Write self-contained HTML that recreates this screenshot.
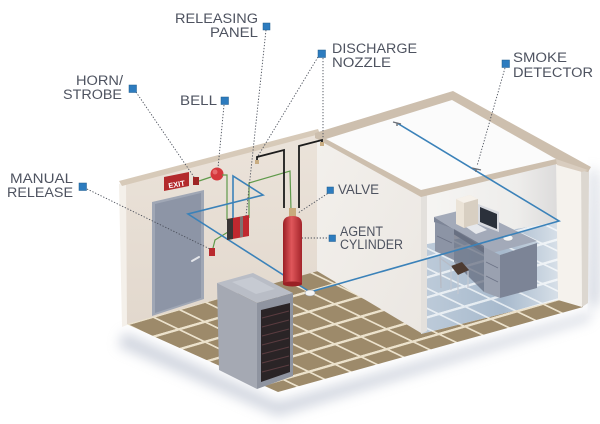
<!DOCTYPE html>
<html><head><meta charset="utf-8">
<style>
html,body{margin:0;padding:0;background:#fff;}
svg{display:block;}
text{font-family:"Liberation Sans",sans-serif;font-size:13.5px;fill:#4e5360;}
</style></head><body>
<svg width="600" height="424" viewBox="0 0 600 424" xmlns="http://www.w3.org/2000/svg">
<defs>
 <pattern id="tile" patternUnits="userSpaceOnUse" width="26" height="26" patternTransform="matrix(1 -0.29 1 0.48 124 324)">
   <rect width="26" height="26" fill="#9d8a6a"/>
   <rect width="26" height="3.2" fill="#ece2cc"/>
   <rect width="2.4" height="26" fill="#ece2cc"/>
 </pattern>
 <pattern id="tileb" patternUnits="userSpaceOnUse" width="26" height="26" patternTransform="matrix(1 -0.29 1 0.48 124 324)">
   <rect width="26" height="26" fill="#9bb0c6"/>
   <rect width="26" height="3.2" fill="#dfe7ee"/>
   <rect width="2.4" height="26" fill="#dfe7ee"/>
 </pattern>
 <filter id="blur" x="-30%" y="-30%" width="160%" height="160%"><feGaussianBlur stdDeviation="6"/></filter>
 <linearGradient id="cyl" x1="0" x2="1" y1="0" y2="0">
   <stop offset="0" stop-color="#9a1f24"/><stop offset="0.45" stop-color="#e0575b"/><stop offset="1" stop-color="#a3242a"/>
 </linearGradient>
 <linearGradient id="bw" x1="0" y1="0" x2="0" y2="1">
   <stop offset="0" stop-color="#ebe3da"/><stop offset="1" stop-color="#e2d8cd"/>
 </linearGradient>
 <linearGradient id="pw" x1="0" y1="0" x2="1" y2="1">
   <stop offset="0" stop-color="#f3f0ec"/><stop offset="1" stop-color="#ebe7e2"/>
 </linearGradient>
 <linearGradient id="ri" x1="0" y1="0" x2="1" y2="0">
   <stop offset="0" stop-color="#f6f5f3"/><stop offset="0.7" stop-color="#eeedeb"/><stop offset="1" stop-color="#dcdbdb"/>
 </linearGradient>
 <linearGradient id="bfade" x1="0" y1="0" x2="1" y2="0">
   <stop offset="0" stop-color="#fff" stop-opacity="0.35"/><stop offset="0.6" stop-color="#fff" stop-opacity="0.12"/><stop offset="1" stop-color="#fff" stop-opacity="0.6"/>
 </linearGradient>
 <clipPath id="rfloor"><polygon points="421,245 557,222 558,300 421,334"/></clipPath>
</defs>

<!-- shadows -->
<polygon points="124,332 278,402 586,314 596,300 598,170 590,320 278,416 118,346" fill="#a3acc0" opacity="0.5" filter="url(#blur)"/>
<polygon points="590,168 598,172 598,305 590,308" fill="#b9c0cf" opacity="0.6" filter="url(#blur)"/>

<!-- floor -->
<polygon points="124,323 330,266 560,228 583,307 278,392" fill="url(#tile)"/>

<!-- back wall -->
<polygon points="122,183 318,132 318,271 124,325" fill="url(#bw)"/>
<polygon points="119,184 126,182 127,325 122,327" fill="#f4f0ea"/>
<polygon points="119,181 318,129 320,134 122,186" fill="#d7cab9"/>

<!-- partition wall face -->
<polygon points="317,134 421,192 421,333 317,271" fill="url(#pw)"/>

<!-- right room interior -->
<polygon points="421,192 558,160 558,300 421,334" fill="url(#ri)"/>
<g clip-path="url(#rfloor)">
 <polygon points="421,245 557,222 558,300 421,334" fill="url(#tileb)"/>
 <polygon points="421,245 557,222 558,300 421,334" fill="url(#bfade)"/>
</g>
<polygon points="421,192 427,191 427,331 421,334" fill="#e3e0dc"/>

<!-- right wall -->
<polygon points="556,159 581,166 582,307 558,300" fill="#f5f2ed"/>
<polygon points="581,166 589,169 588,303 582,307" fill="#dcd7d0"/>

<!-- ceiling -->
<polygon points="315,133 453,91 591,167 588,172 557,164 421,197 315,138" fill="#cdbfae"/>
<polygon points="326,139 452,100 556,159 421,190" fill="#fbfbfb"/>
<polygon points="556,159 588,170 582,172 557,165" fill="#d9cdbf"/>

<!-- desk -->
<polygon points="434,217 470,208 537,241 492,253" fill="#a3aab9"/>
<polygon points="434,217 492,253 492,258 434,222" fill="#7d8597"/>
<polygon points="435,222 454,229 454,260 435,251" fill="#8c94a5"/>
<polygon points="454,229 484,246 484,292 454,262" fill="#5f6779" opacity="0.7"/>
<polygon points="484,247 500,255 500,298 484,292" fill="#9aa1b0"/>
<polygon points="500,255 537,243 537,288 500,298" fill="#7c8496"/>
<line x1="486" y1="262" x2="498" y2="268" stroke="#6c7386" stroke-width="0.8"/>
<line x1="486" y1="276" x2="498" y2="282" stroke="#6c7386" stroke-width="0.8"/>
<line x1="437" y1="236" x2="452" y2="243" stroke="#6c7386" stroke-width="0.8"/>
<!-- tower -->
<polygon points="456,199 470,195 478,199 478,224 464,228 456,224" fill="#ebe3d7"/>
<polygon points="456,199 470,195 478,199 464,203" fill="#f6f1ea"/>
<polygon points="464,203 478,199 478,224 464,228" fill="#d8cfc2"/>
<!-- monitor -->
<polygon points="478,204 499,212 499,232 478,224" fill="#d9dbe0"/>
<polygon points="480,207 497,214 497,229 480,222" fill="#2b313b"/>
<polygon points="466,227 477,224 487,230 476,234" fill="#e6e8ec"/>
<ellipse cx="508" cy="238" rx="5" ry="3" fill="#f4f4f4" stroke="#9aa0aa" stroke-width="0.5"/>
<!-- chair -->
<polygon points="451,266 462,262 469,270 458,275" fill="#4d3b31"/>
<line x1="440" y1="255" x2="441" y2="288" stroke="#b7bcc6" stroke-width="1.5"/>
<line x1="451" y1="266" x2="451" y2="290" stroke="#c4c9d2" stroke-width="1.2"/>
<line x1="458" y1="275" x2="458" y2="294" stroke="#c4c9d2" stroke-width="1.2"/>
<line x1="468" y1="271" x2="468" y2="288" stroke="#c4c9d2" stroke-width="1.2"/>
<line x1="440" y1="258" x2="451" y2="266" stroke="#b7bcc6" stroke-width="1.2"/>

<!-- door -->
<polygon points="152,202 204,190 204,299 152,316" fill="#a0a7b5"/>
<polygon points="155,204 201,193 201,298 155,313" fill="#8d95a6"/>
<line x1="192" y1="261" x2="199" y2="257" stroke="#e4e6ea" stroke-width="2" stroke-linecap="round"/>

<!-- exit sign -->
<polygon points="164,177 189,172 189,186 164,191" fill="#b32a2c"/>
<text x="168" y="187" style="font-size:7.5px;font-weight:bold;fill:#fff" transform="rotate(-10 176 183)">EXIT</text>
<!-- horn -->
<rect x="193" y="177" width="6" height="8" fill="#9e2424"/>
<!-- bell -->
<circle cx="217" cy="174" r="6.5" fill="#d4383c"/>
<circle cx="215" cy="172" r="2.5" fill="#e66a6c"/>

<!-- green wires -->
<g fill="none" stroke="#5f9a4a" stroke-width="1.2">
 <polyline points="199,181 211,177"/>
 <polyline points="222,175 227,175 227,220"/>
 <polyline points="249,218 249,183 290,171 291,210"/>
 <polyline points="228,232 215,240 213,248"/>
</g>

<!-- blue wires -->
<polyline points="233,218 233,176 263,195 188,214 310,292 559,221 397,123" fill="none" stroke="#3b82b9" stroke-width="1.6"/>

<!-- black pipes -->
<g fill="none" stroke="#1c1c1c" stroke-width="1.8">
 <polyline points="257,162 257,157 284,150 284,208"/>
 <polyline points="299,208 299,146 322,140 322,145"/>
</g>
<rect x="255" y="160" width="4" height="4" fill="#c9ad82"/>
<rect x="320" y="142" width="4" height="4" fill="#c9ad82"/>

<!-- releasing panel -->
<polygon points="227,219 249,215 249,236 227,240" fill="#c0282f"/>
<polygon points="227,219 233,218 233,239 227,240" fill="#3a3636"/>
<polygon points="240,217 243,216 243,237 240,237" fill="#7d7373"/>
<!-- manual release -->
<rect x="209" y="248" width="6" height="8" fill="#b92a2e"/>

<!-- cylinder -->
<rect x="289" y="208" width="7" height="10" fill="#c8aa7c"/>
<path d="M283,284 L283,224 Q283,216 292.5,216 Q302,216 302,224 L302,284 Z" fill="url(#cyl)"/>
<ellipse cx="292.5" cy="284" rx="9.5" ry="2.5" fill="#9a2024"/>

<!-- floor detector -->
<ellipse cx="310" cy="293" rx="5" ry="3" fill="#f4f4f4" stroke="#9aa0aa" stroke-width="0.5"/>
<!-- ceiling detectors -->
<path d="M393,122 L401,124 M397,123 L397,126" stroke="#6b6f77" stroke-width="1.4"/>
<path d="M472,168 L481,170 M476,169 L476,172" stroke="#6b6f77" stroke-width="1.4"/>

<!-- server cabinet -->
<polygon points="217,283 253,273 293,293 257,303" fill="#b9bdc6"/>
<polygon points="232,282 252,277 275,289 256,294" fill="#c6cad2"/>
<polygon points="217,283 257,303 257,389 219,370" fill="#a5a9b3"/>
<polygon points="257,303 293,293 293,376 257,389" fill="#8f94a0"/>
<polygon points="261,310 290,303 290,372 261,382" fill="#2a2426"/>
<g stroke="#5a3c40" stroke-width="1">
 <line x1="262" y1="318" x2="289" y2="311"/>
 <line x1="262" y1="327" x2="289" y2="320"/>
 <line x1="262" y1="336" x2="289" y2="329"/>
 <line x1="262" y1="345" x2="289" y2="338"/>
 <line x1="262" y1="354" x2="289" y2="347"/>
 <line x1="262" y1="363" x2="289" y2="356"/>
 <line x1="262" y1="372" x2="289" y2="365"/>
</g>

<!-- leader lines -->
<g fill="none" stroke="#4a4f5a" stroke-width="0.9" stroke-dasharray="1.3 1.7">
 <line x1="266" y1="30" x2="246" y2="216"/>
 <line x1="136" y1="92" x2="194" y2="177"/>
 <line x1="224" y1="105" x2="218" y2="168"/>
 <line x1="87" y1="189" x2="210" y2="249"/>
 <line x1="318" y1="57" x2="258" y2="156"/>
 <line x1="323" y1="58" x2="323" y2="139"/>
 <line x1="505" y1="68" x2="477" y2="166"/>
 <line x1="330" y1="192" x2="298" y2="213"/>
 <line x1="330" y1="238" x2="302" y2="238"/>
</g>

<!-- label squares -->
<g fill="#2d7cbf" stroke="#1f5a8c" stroke-width="0.5">
 <rect x="263" y="23" width="7" height="7"/>
 <rect x="129" y="85" width="7.5" height="7.5"/>
 <rect x="221" y="97" width="7.5" height="7.5"/>
 <rect x="79" y="183" width="7.5" height="7.5"/>
 <rect x="318" y="50" width="7.5" height="7.5"/>
 <rect x="502" y="60" width="7.5" height="7.5"/>
 <rect x="327" y="187" width="6.5" height="6.5"/>
 <rect x="329" y="235" width="6.5" height="6.5"/>
</g>

<!-- labels -->
<text x="258" y="23" text-anchor="end" textLength="83" lengthAdjust="spacingAndGlyphs">RELEASING</text>
<text x="258" y="37" text-anchor="end" textLength="48" lengthAdjust="spacingAndGlyphs">PANEL</text>
<text x="123" y="85" text-anchor="end" textLength="47" lengthAdjust="spacingAndGlyphs">HORN/</text>
<text x="122" y="99" text-anchor="end" textLength="59" lengthAdjust="spacingAndGlyphs">STROBE</text>
<text x="180" y="105" textLength="37" lengthAdjust="spacingAndGlyphs">BELL</text>
<text x="73" y="183" text-anchor="end" textLength="63" lengthAdjust="spacingAndGlyphs">MANUAL</text>
<text x="73" y="197" text-anchor="end" textLength="66" lengthAdjust="spacingAndGlyphs">RELEASE</text>
<text x="332" y="53" textLength="85" lengthAdjust="spacingAndGlyphs">DISCHARGE</text>
<text x="332" y="67" textLength="59" lengthAdjust="spacingAndGlyphs">NOZZLE</text>
<text x="513" y="62" textLength="54" lengthAdjust="spacingAndGlyphs">SMOKE</text>
<text x="513" y="77" textLength="80" lengthAdjust="spacingAndGlyphs">DETECTOR</text>
<text x="338" y="194" textLength="41" lengthAdjust="spacingAndGlyphs">VALVE</text>
<text x="340" y="236" textLength="43" lengthAdjust="spacingAndGlyphs">AGENT</text>
<text x="340" y="249" textLength="63" lengthAdjust="spacingAndGlyphs">CYLINDER</text>
</svg>
</body></html>
